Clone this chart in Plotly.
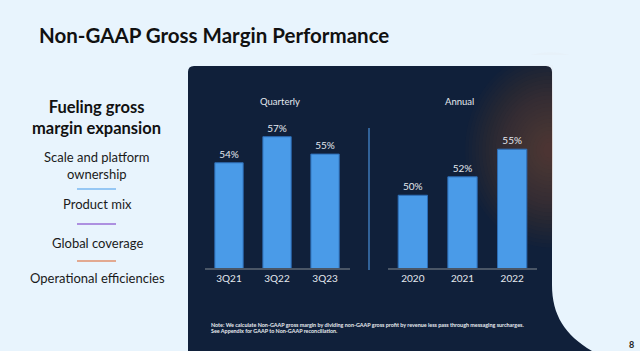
import plotly.graph_objects as go

W, H = 640, 351

quarters = ["3Q21", "3Q22", "3Q23"]
quarter_margin = [54, 57, 55]
years = ["2020", "2021", "2022"]
annual_margin = [50, 52, 55]

title_text = "Non-GAAP Gross Margin Performance"
drivers_heading = ["Fueling gross", "margin expansion"]
drivers = ["Scale and platform<br>ownership", "Product mix", "Global coverage", "Operational efficiencies"]
footnote = ["Note: We calculate Non-GAAP gross margin by dividing non-GAAP gross profit by revenue less pass through messaging surcharges.",
            "See Appendix for GAAP to Non-GAAP reconciliation."]

BG = "#e8f4fd"
PANEL = "#10203a"
BAR = "#4a9be8"
BAR_LINE = "#2d6db5"
LIGHT_TXT = "#e4e8ee"


def X(px):
    return px / W


def Y(py):
    return 1 - py / H


def P(pts):
    return [(X(a), Y(b)) for a, b in pts]


fig = go.Figure()

fig.add_trace(go.Bar(
    x=quarters, y=quarter_margin, xaxis="x", yaxis="y",
    marker=dict(color=BAR, line=dict(color=BAR_LINE, width=1)),
    texttemplate="%{y}%", textposition="outside", cliponaxis=False,
    textfont=dict(color=LIGHT_TXT, size=10, family="Lato"),
    hoverinfo="skip", showlegend=False,
))
fig.add_trace(go.Bar(
    x=years, y=annual_margin, xaxis="x2", yaxis="y2",
    marker=dict(color=BAR, line=dict(color=BAR_LINE, width=1)),
    texttemplate="%{y}%", textposition="outside", cliponaxis=False,
    textfont=dict(color=LIGHT_TXT, size=10, family="Lato"),
    hoverinfo="skip", showlegend=False,
))

shapes = []
# dark panel with rounded top corners and curved bottom-right
pts = P([(188, 72), (188, 66), (194, 66), (546, 66), (552, 66), (552, 72), (552, 285),
         (552, 315), (565, 335), (592, 351), (188, 351)])
path = (f"M {pts[0][0]},{pts[0][1]} Q {pts[1][0]},{pts[1][1]} {pts[2][0]},{pts[2][1]} "
        f"L {pts[3][0]},{pts[3][1]} Q {pts[4][0]},{pts[4][1]} {pts[5][0]},{pts[5][1]} "
        f"L {pts[6][0]},{pts[6][1]} C {pts[7][0]},{pts[7][1]} {pts[8][0]},{pts[8][1]} {pts[9][0]},{pts[9][1]} "
        f"L {pts[10][0]},{pts[10][1]} Z")
shapes.append(dict(type="path", xref="paper", yref="paper", path=path,
                   fillcolor=PANEL, line=dict(width=0), layer="below"))
# warm glow near right edge (soft radial falloff)
cx, cy = 550, 150
for i in range(24):
    r = 85 - i * 3.4
    shapes.append(dict(type="circle", xref="paper", yref="paper",
                       x0=X(cx - r), x1=X(cx + r), y0=Y(cy + r * 1.15), y1=Y(cy - r * 1.15),
                       fillcolor="#c0683f", opacity=0.018, line=dict(width=0), layer="below"))
# cover glow spill outside the panel
shapes.append(dict(type="rect", xref="paper", yref="paper", x0=X(552.5), x1=1, y0=Y(285), y1=Y(55),
                   fillcolor=BG, line=dict(width=0), layer="below"))
shapes.append(dict(type="rect", xref="paper", yref="paper", x0=X(480), x1=X(553), y0=Y(65.5), y1=Y(55),
                   fillcolor=BG, line=dict(width=0), layer="below"))
shapes.append(dict(type="path", xref="paper", yref="paper",
                   path=f"M {X(546)},{Y(65.5)} Q {X(552.3)},{Y(65.7)} {X(552.5)},{Y(72)} L {X(552.5)},{Y(65.5)} Z",
                   fillcolor=BG, line=dict(width=0), layer="below"))
# divider
shapes.append(dict(type="line", xref="paper", yref="paper", x0=X(369), x1=X(369), y0=Y(270), y1=Y(128),
                   line=dict(color="#3c78b8", width=1.5)))
# left list separators
for yy, col in [(189, "#7ab8f0"), (224, "#9a6fd6"), (261, "#e0906c")]:
    shapes.append(dict(type="line", xref="paper", yref="paper", x0=X(77), x1=X(116), y0=Y(yy), y1=Y(yy),
                       line=dict(color=col, width=1.5)))

ann = []
ann.append(dict(text=f"<b>{title_text}</b>", x=X(37), y=Y(35), xanchor="left", yanchor="middle",
                font=dict(size=20.5, color="#111111", family="Lato")))
ann.append(dict(text="<b>" + "<br>".join(drivers_heading) + "</b>", x=X(96), y=Y(117.5), xanchor="center",
                yanchor="middle", font=dict(size=16.5, color="#111111", family="Lato")))
for txt, yy in zip(drivers, [166, 204, 243, 278]):
    ann.append(dict(text=txt, x=X(97), y=Y(yy), xanchor="center", yanchor="middle",
                    font=dict(size=13, color="#1a1a1a", family="Lato")))
ann.append(dict(text="Quarterly", x=X(280), y=Y(101), xanchor="center", yanchor="middle",
                font=dict(size=9.5, color=LIGHT_TXT, family="Lato")))
ann.append(dict(text="Annual", x=X(459), y=Y(101), xanchor="center", yanchor="middle",
                font=dict(size=9.5, color=LIGHT_TXT, family="Lato")))
for txt, yy in zip(footnote, [325, 330.5]):
    ann.append(dict(text=f"<b>{txt}</b>", x=X(209), y=Y(yy), xanchor="left", yanchor="middle",
                    font=dict(size=5.4, color="#e8ecf0", family="Lato")))
ann.append(dict(text="<b>8</b>", x=X(631), y=Y(344), xanchor="center", yanchor="middle",
                font=dict(size=9, color="#222222", family="Lato")))
for a in ann:
    a.update(xref="paper", yref="paper", showarrow=False)

axis_common = dict(showgrid=False, zeroline=False, ticks="", fixedrange=True)
fig.update_layout(
    width=W, height=H, margin=dict(l=0, r=0, t=0, b=0),
    paper_bgcolor=BG, plot_bgcolor="rgba(0,0,0,0)",
    bargap=0.41,
    shapes=shapes, annotations=ann,
    xaxis=dict(domain=[X(205), X(350)], range=[-0.5, 2.52], type="category",
               showline=True, linecolor="#4a5666", linewidth=1.5,
               tickfont=dict(size=10, color=LIGHT_TXT, family="Lato"), anchor="y", **axis_common),
    xaxis2=dict(domain=[X(388), X(537)], range=[-0.5, 2.5], type="category",
                showline=True, linecolor="#4a5666", linewidth=1.5,
                tickfont=dict(size=10, color=LIGHT_TXT, family="Lato"), anchor="y2", **axis_common),
    yaxis=dict(domain=[Y(268), Y(128)], range=[41.9, 58.0], showticklabels=False, anchor="x", **axis_common),
    yaxis2=dict(domain=[Y(268), Y(128)], range=[42.1, 57.3], showticklabels=False, anchor="x2", **axis_common),
)

fig.write_html("out.html")
